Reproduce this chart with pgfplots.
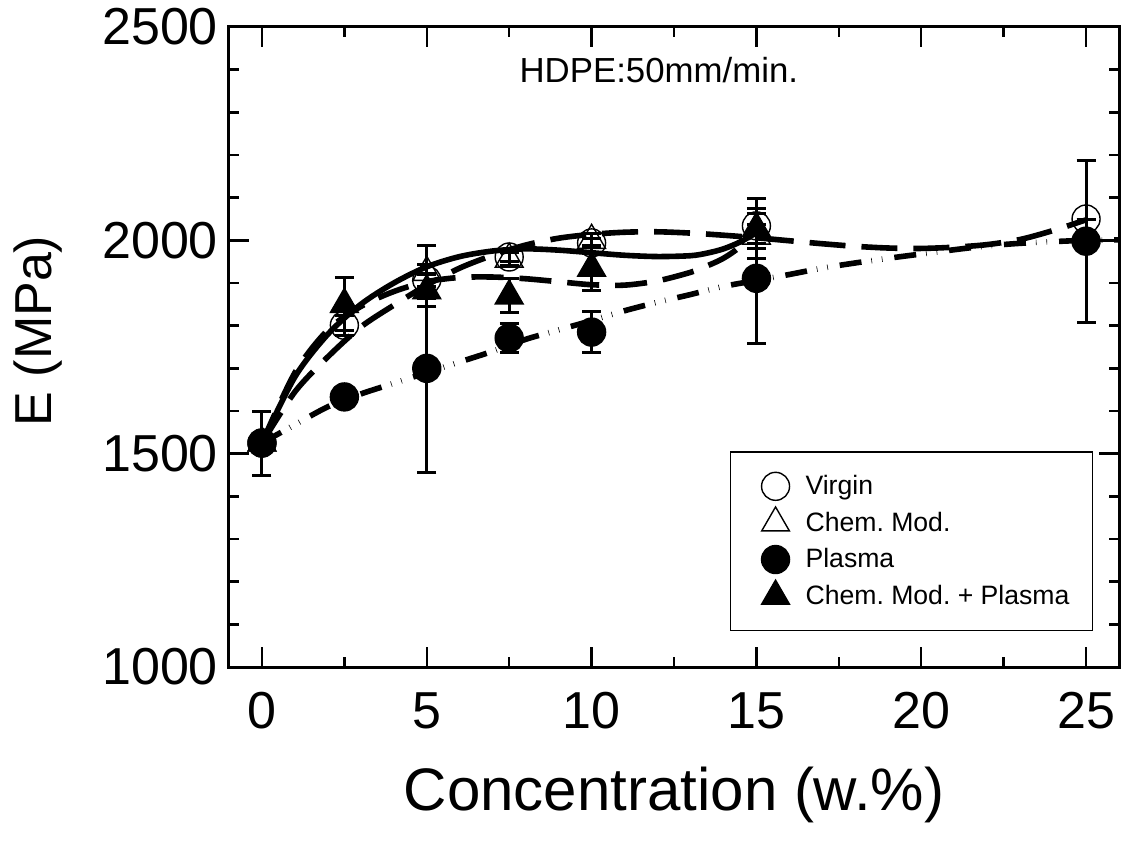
\documentclass[border=0pt]{standalone}
\usepackage{pgfplots}
\pgfplotsset{compat=1.18}
\usepackage{fontspec}
\setmainfont{Liberation Sans}
\frenchspacing
\begin{document}
\begin{tikzpicture}
\begin{axis}[
  scale only axis, width=445pt, height=320pt,
  xmin=-1, xmax=26, ymin=1000, ymax=2500,
  xtick={0,5,...,25}, minor x tick num=1,
  ytick={1000,1500,2000,2500}, minor y tick num=4,
  tick pos=both, tick align=inside,
  major tick length=10pt, minor tick length=5pt,
  tick style={line width=1.2pt, black},
  axis line style={line width=1.5pt},
  /pgf/number format/assume math mode=true,
  /pgf/number format/1000 sep={},
  tick label style={font=\fontsize{26}{26}\selectfont},
  yticklabel style={xshift=-2pt},
  xticklabel style={yshift=-9.3pt},
  xlabel={Concentration (w.\%)},
  xlabel style={font=\fontsize{30}{30}\selectfont, at={(axis description cs:0.5,0)}, anchor=north, inner sep=0pt, yshift=-50pt},
  ylabel={E (MPa)},
  ylabel style={font=\fontsize{26}{26}\selectfont, at={(axis description cs:-0.1989,0.525)}, anchor=base, inner sep=0pt},
  clip mode=individual,
  legend image code/.code={\path[draw=none,fill=none] (-13pt,0pt) rectangle (9pt,0pt); \draw[#1] plot coordinates {(0pt,-1.5pt)};},
  legend cell align=left,
  legend style={at={(axis description cs:0.971,0.056)}, anchor=south east, draw=black, line width=0.75pt,
    inner xsep=9.5pt, inner ysep=8pt, font=\fontsize{13.3}{16}\selectfont,
    nodes={inner sep=2pt, minimum height=18.3pt, yshift=-1.5pt}, column sep=4pt},
  error bars/error bar style={line width=1.5pt, solid},
  error bars/error mark options={rotate=90, mark size=4.75pt, line width=1.5pt},
]
% fitted curves
\addplot[forget plot, black, line width=2.8pt, smooth] coordinates {
 (0,1525)(1,1680)(2,1780)(3,1850)(4,1900)(5,1938)(6,1962)(7,1975)(8,1980)(9,1977)(10,1971)(11,1965)(12,1962)(13,1964)(13.5,1970)(14,1980)(14.5,1996)(15,2018)};
\addplot[forget plot, black, line width=2.8pt, smooth, dash pattern=on 18pt off 8pt] coordinates {
 (0,1525)(1,1645)(2,1727)(3,1797)(4,1848)(5,1895)(6,1935)(7,1965)(8,1989)(9,2005)(10,2014)(11,2019)(12,2020)(13,2017)(14,2012)(15,2006)(16,1999)(17,1992)(18,1986)(19,1982)(20,1981)(21,1984)(22,1990)(23,2002)(24,2023)(25,2048)};
\addplot[forget plot, black, line width=2.8pt, smooth, dash pattern=on 16pt off 8pt] coordinates {
 (0,1525)(1,1690)(2,1790)(3,1845)(4,1880)(5,1903)(6,1913)(7,1914)(8,1910)(9,1903)(10,1896)(11,1895)(12,1905)(13,1925)(13.5,1940)(14,1958)(14.5,1985)(15,2028)};
\addplot[forget plot, black, line width=2.8pt, smooth, dash pattern=on 11pt off 5pt on 0.3pt off 5pt on 0.3pt off 6pt] coordinates {
 (0,1525)(1,1568)(2,1610)(3,1640)(4,1665)(5,1690)(6,1715)(7,1740)(8,1768)(9,1790)(10,1812)(11,1835)(12,1855)(13,1873)(14,1892)(15,1906)(16,1920)(17,1935)(18,1947)(19,1958)(20,1968)(21,1978)(22,1987)(23,1993)(24,1997)(25,2000)(26,2001)};
% data
\addplot[only marks, black, mark=o, mark size=7pt, mark options={line width=0.7pt},
  error bars/.cd, y dir=both, y explicit] coordinates {
 (0,1525) +- (0,75) (2.5,1801) +- (0,24) (5,1907) +- (0,15) (7.5,1961) +- (0,10) (10,1994) +- (0,10) (15,2034) +- (0,41) (25,2050) +- (0,0)};
\addlegendentry{Virgin}
\addplot[only marks, black, mark=triangle, mark size=8pt, mark options={line width=0.7pt},
  error bars/.cd, y dir=both, y explicit] coordinates {
 (0,1525) +- (0,0) (5,1925) +- (0,62) (7.5,1956) +- (0,15) (10,2000) +- (0,15) (15,2010) +- (0,28)};
\addlegendentry{Chem. Mod.}
\addplot[only marks, black, mark=*, mark size=7pt, mark options={line width=0.7pt, fill=black},
  error bars/.cd, y dir=both, y explicit] coordinates {
 (0,1525) +- (0,0) (2.5,1633) +- (0,0) (5,1700) +- (0,243) (7.5,1771) +- (0,33) (10,1785) +- (0,48) (15,1911) +- (0,153) (25,1998) +- (0,190)};
\addlegendentry{Plasma}
\addplot[only marks, black, mark=triangle*, mark size=8pt, mark options={line width=0.7pt, fill=black},
  error bars/.cd, y dir=both, y explicit] coordinates {
 (0,1525) +- (0,0) (2.5,1850) +- (0,62) (5,1882) +- (0,38) (7.5,1870) +- (0,40) (10,1935) +- (0,52) (15,2028) +- (0,71)};
\addlegendentry{Chem. Mod. + Plasma}
\node[anchor=base, inner sep=0pt, font=\fontsize{17.4}{17.4}\selectfont] at (axis cs:12.04,2371) {HDPE:50mm/min.};
\path (axis description cs:-0.2573,-0.2734) rectangle (axis description cs:1.0101,1.0422);
\end{axis}
\end{tikzpicture}
\end{document}
